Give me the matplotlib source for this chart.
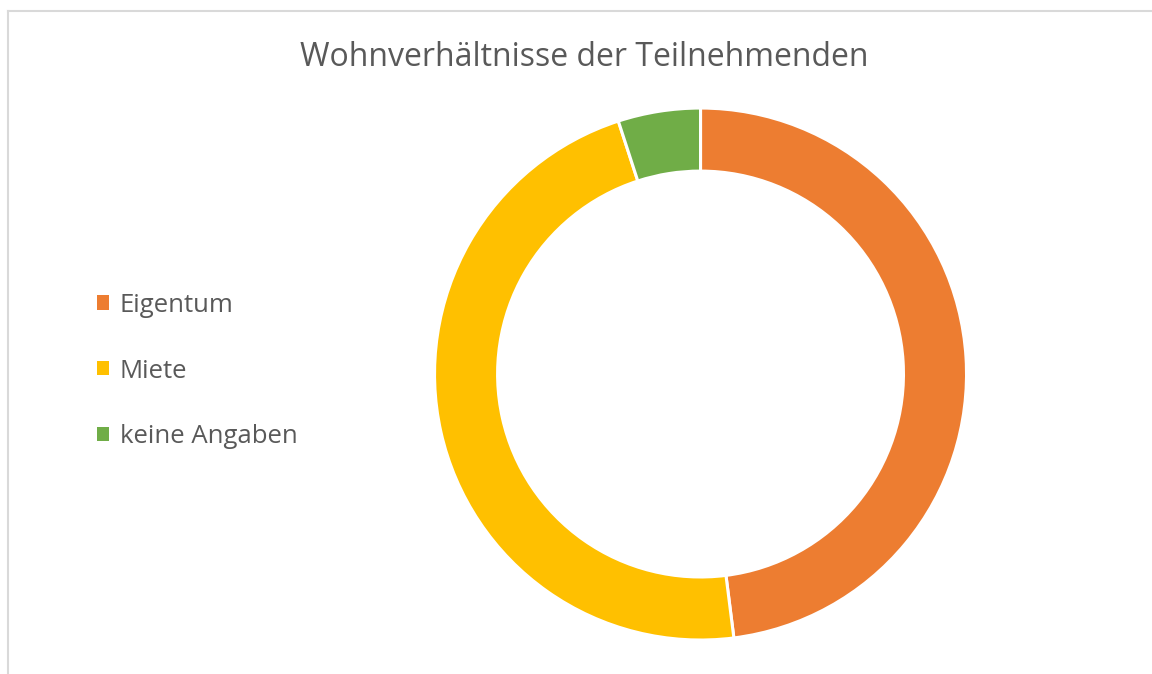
import matplotlib
matplotlib.use("Agg")
import matplotlib.pyplot as plt
from matplotlib.lines import Line2D
from matplotlib.patches import Patch

title = "Wohnverhältnisse der Teilnehmenden"
labels = ["Eigentum", "Miete", "keine Angaben"]
values = [48, 47, 5]
colors = ["#ED7D31", "#FFC000", "#70AD47"]

plt.rcParams['font.family'] = ['Open Sans', 'DejaVu Sans']

fig = plt.figure(figsize=(11.52, 6.74), dpi=100)

# chart frame (only left and top edges visible in the crop)
fig.add_artist(Line2D([7.5/1152, 7.5/1152], [0, 1 - 11/674], color="#d9d9d9", lw=1.5))
fig.add_artist(Line2D([7.5/1152, 1], [1 - 11/674, 1 - 11/674], color="#d9d9d9", lw=1.5))

ax = fig.add_axes([0.3772, 0.0504, 0.4618, 0.7893])
wedges, _ = ax.pie(values, colors=colors, startangle=90, counterclock=False,
                   radius=1, wedgeprops=dict(width=0.237, edgecolor="white", linewidth=2.2))
ax.set_xlim(-1, 1)
ax.set_ylim(-1, 1)
ax.set_aspect("equal")
ax.axis("off")

fig.text(584/1152, 1 - 57/674, title, ha="center", va="center",
         fontsize=23, color="#595959")

handles = [Patch(facecolor=c, edgecolor="none") for c in colors]
leg = fig.legend(handles, labels, loc="center left", bbox_to_anchor=(87/1152, 1 - 371/674),
                 frameon=False, fontsize=18.5, labelcolor="#595959", borderaxespad=0,
                 handlelength=0.47, handleheight=0.47, handletextpad=0.4,
                 labelspacing=1.59)

fig.savefig("out.png", dpi=100)
